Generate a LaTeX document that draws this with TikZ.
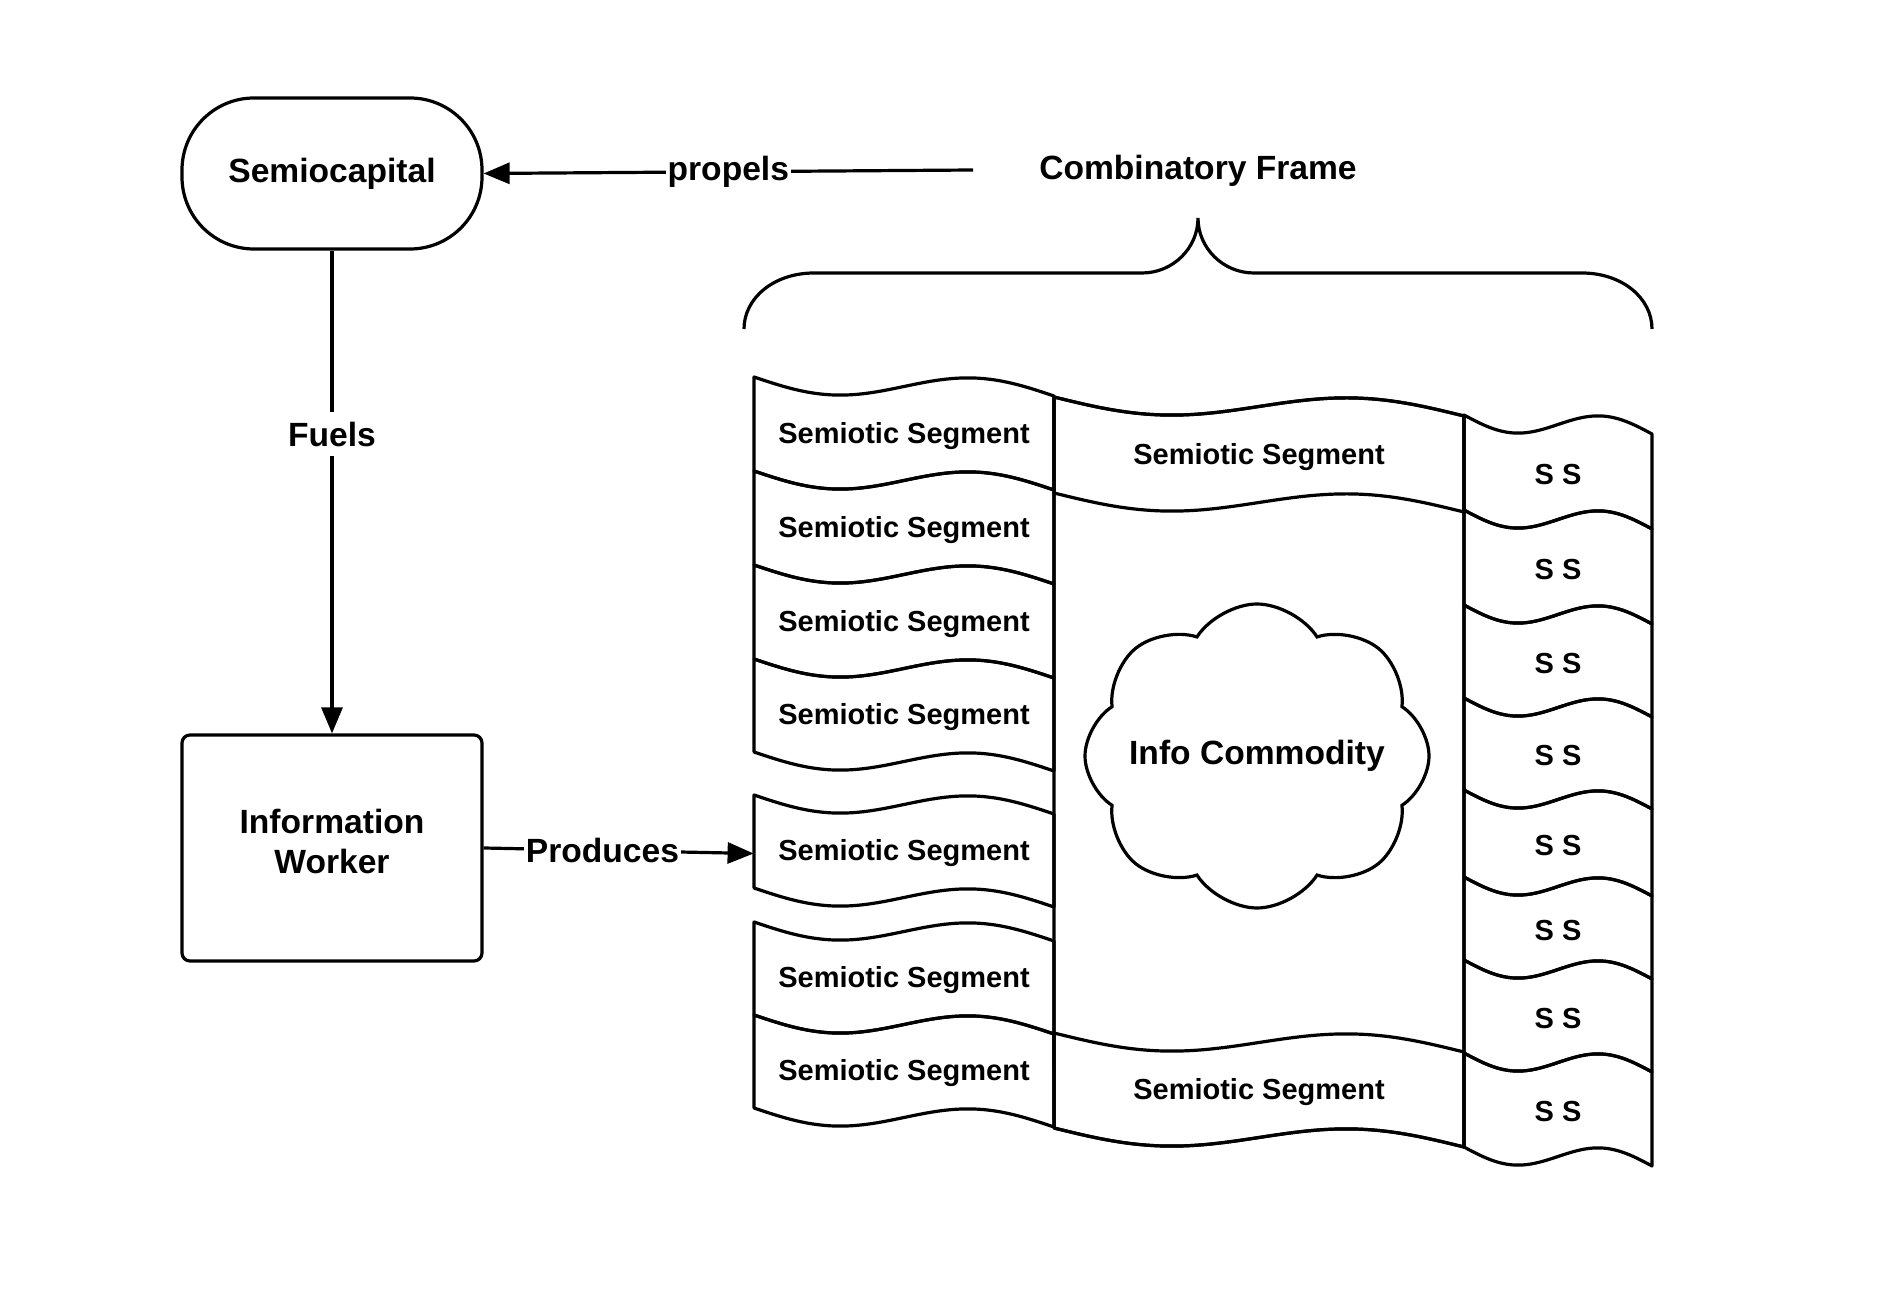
\documentclass[tikz,border=0pt]{standalone}
\usepackage{fontspec}
\setmainfont{Liberation Sans}
\usetikzlibrary{arrows.meta, positioning, shapes.symbols}

% wavy band: xL, xR, ytop, ybot
\newcommand{\band}[4]{%
  \draw[seg] plot[domain=0:1] ({#1+(#2-#1)*\x},{#3+19*\x+13*sin(360*\x)})
    -- plot[domain=1:0] ({#1+(#2-#1)*\x},{#4+19*\x+13*sin(360*\x)}) -- cycle;}
% segment with label: name, xL, xR, ytop, ybot, text
\newcommand{\segment}[6]{%
  \band{#2}{#3}{#4}{#5}
  \node[segtext, minimum width={(#3-#2)*0.5pt}] (#1) at ({(#2+#3)/2},{(#4+#5)/2+12}) {#6};}

\begin{document}
\begin{tikzpicture}[x=0.5pt, y=-0.5pt, >={Triangle[length=13pt,width=10.5pt]},
    terminal/.style={draw, line width=1.6pt, rounded corners=36pt, minimum width=150pt, minimum height=75.5pt, font=\fontsize{16.8}{20}\selectfont\bfseries},
    process/.style={draw, line width=1.6pt, rounded corners=4pt, minimum width=150pt, minimum height=113pt, text depth=7pt, align=center, font=\fontsize{16.8}{20}\selectfont\bfseries},
    seg/.style={line width=1.6pt, line join=round, samples=40, smooth},
    segtext/.style={inner xsep=0pt, font=\fontsize{14.5}{17}\selectfont\bfseries},
    title/.style={inner xsep=0pt, font=\fontsize{16.8}{20}\selectfont\bfseries},
    lbl/.style={fill=white, inner xsep=1pt, inner ysep=5pt, font=\fontsize{16.8}{20}\selectfont\bfseries},
    link/.style={line width=1.6pt}]

    \useasboundingbox (0,0) rectangle (1903,1315);

    % Left side
    \node[terminal] (semio) at (332,173.5) {Semiocapital};
    \node[process] (worker) at (332,848) {Information\\Worker};

    % Combinatory frame
    \node[title] (frame) at (1198,171) {Combinatory Frame};
    \coordinate (propelsend) at (973,170);
    \draw[link] (744,329) .. controls (744,298) and (774,273) .. (814,273) -- (1142,273)
        .. controls (1173,273) and (1198,248) .. (1198,218)
        .. controls (1198,248) and (1223,273) .. (1254,273) -- (1582,273)
        .. controls (1622,273) and (1652,298) .. (1652,329);

    % Middle column
    \band{1054}{1464}{397}{1128}
    \segment{mid1}{1054}{1464}{397}{493}{Semiotic Segment}
    \segment{mid2}{1054}{1464}{1033}{1128}{Semiotic Segment}
    \node[cloud, draw, line width=1.6pt, cloud puffs=8, cloud puff arc=115, inner sep=0pt,
        minimum width=172pt, minimum height=152pt, font=\fontsize{16.8}{20}\selectfont\bfseries] (commodity) at (1257,756) {\makebox[0pt]{Info Commodity}};

    % Left column
    \segment{seg1}{754}{1054}{377}{471}{Semiotic Segment}
    \segment{seg2}{754}{1054}{471}{565}{Semiotic Segment}
    \segment{seg3}{754}{1054}{565}{659}{Semiotic Segment}
    \segment{seg4}{754}{1054}{659}{752}{Semiotic Segment}
    \segment{seg5}{754}{1054}{795}{888}{Semiotic Segment}
    \segment{seg6}{754}{1054}{922}{1015}{Semiotic Segment}
    \segment{seg7}{754}{1054}{1015}{1108}{Semiotic Segment}

    % Right column
    \segment{ss1}{1464}{1652}{415}{510}{S S}
    \segment{ss2}{1464}{1652}{510}{605}{S S}
    \segment{ss3}{1464}{1652}{605}{698}{S S}
    \segment{ss4}{1464}{1652}{698}{790}{S S}
    \segment{ss5}{1464}{1652}{790}{877}{S S}
    \segment{ss6}{1464}{1652}{877}{960}{S S}
    \segment{ss7}{1464}{1652}{960}{1053}{S S}
    \segment{ss8}{1464}{1652}{1053}{1147}{S S}

    % Relations
    \draw[link, ->] (propelsend) -- (semio.east) node[lbl, midway] {propels};
    \draw[link, ->] (semio.south) -- (worker.north) node[lbl, pos=0.38] {Fuels};
    \draw[link, ->] (worker.east) -- (seg5.west) node[lbl, pos=0.44] {Produces};
\end{tikzpicture}
\end{document}
